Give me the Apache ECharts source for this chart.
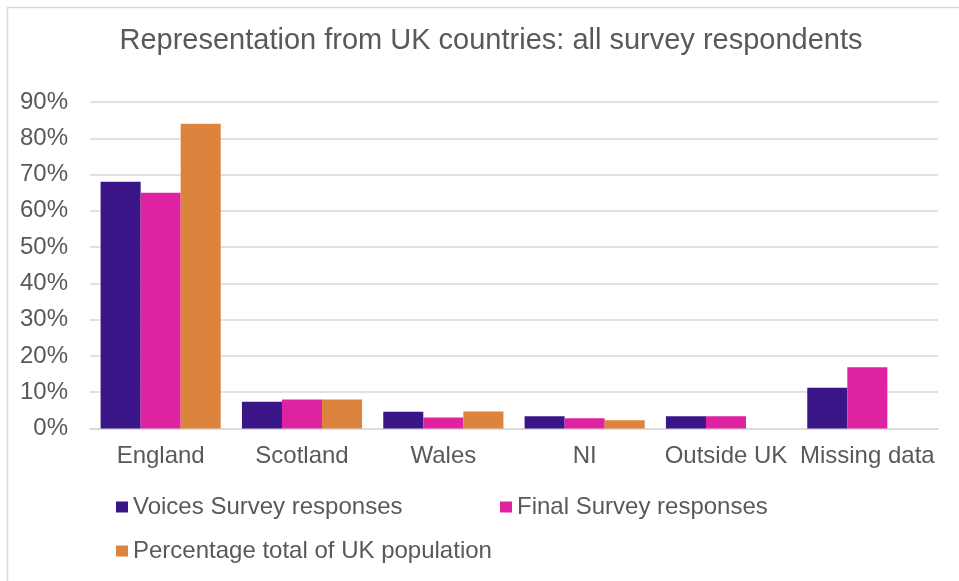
<!DOCTYPE html>
<html>
<head>
<meta charset="utf-8">
<script src="https://cdn.jsdelivr.net/npm/echarts@6/dist/echarts.min.js"></script>
<style>
  html, body { margin: 0; padding: 0; background: #ffffff; }
  #chart { width: 959px; height: 581px; }
</style>
</head>
<body>
<div id="chart"></div>
<script>
// Share of respondents by UK country (percent)
const categories = ['England', 'Scotland', 'Wales', 'NI', 'Outside UK', 'Missing data'];
const voicesSurvey = [68, 7.4, 4.6, 3.4, 3.4, 11.2];
const finalSurvey = [65, 8, 3, 2.8, 3.4, 16.9];
const ukPopulation = [84, 8, 4.7, 2.3, null, null];
const seriesNames = ['Voices Survey responses', 'Final Survey responses', 'Percentage total of UK population'];
const seriesColors = ['#3A1587', '#DF22A0', '#DC843E'];

const FONT = "'Liberation Sans', Arial, sans-serif";
const TEXT = '#595959';
const GRID_LINE = '#d9d9d9';

const chart = echarts.init(document.getElementById('chart'), null, { renderer: 'canvas' });

function legendAt(name, left, top) {
  return {
    data: [name],
    left: left,
    top: top,
    orient: 'horizontal',
    icon: 'rect',
    itemWidth: 12,
    itemHeight: 11,
    selectedMode: false,
    textStyle: { color: TEXT, fontSize: 24, fontFamily: FONT }
  };
}

chart.setOption({
  animation: false,
  backgroundColor: '#ffffff',
  title: {
    text: 'Representation from UK countries: all survey respondents',
    left: 486,
    top: 21,
    textAlign: 'center',
    textStyle: { color: TEXT, fontSize: 29, fontWeight: 'normal', fontFamily: FONT }
  },
  legend: [
    legendAt(seriesNames[0], 111, 490),
    legendAt(seriesNames[1], 495, 490),
    legendAt(seriesNames[2], 111, 534)
  ],
  grid: { left: 90, right: 21, top: 102, bottom: 152.5, containLabel: false },
  xAxis: {
    type: 'category',
    data: categories,
    axisLine: { show: true, lineStyle: { color: GRID_LINE, width: 1.5 } },
    axisTick: { show: false },
    axisLabel: { color: TEXT, fontSize: 24, fontFamily: FONT, margin: 16, interval: 0 }
  },
  yAxis: {
    type: 'value',
    min: 0,
    max: 90,
    interval: 10,
    axisLine: { show: false },
    axisTick: { show: false },
    axisLabel: { color: TEXT, fontSize: 24, fontFamily: FONT, margin: 22, formatter: '{value}%' },
    splitLine: { lineStyle: { color: GRID_LINE, width: 1.5 } }
  },
  graphic: [
    {
      type: 'polyline',
      shape: { points: [[7.5, 581], [7.5, 7.5], [959, 7.5]] },
      style: { stroke: '#d9d9d9', lineWidth: 1.5, fill: null },
      silent: true
    }
  ],
  series: [
    { name: seriesNames[0], type: 'bar', data: voicesSurvey, itemStyle: { color: seriesColors[0] }, barGap: '0%', barCategoryGap: '15%' },
    { name: seriesNames[1], type: 'bar', data: finalSurvey, itemStyle: { color: seriesColors[1] }, barGap: '0%', barCategoryGap: '15%' },
    { name: seriesNames[2], type: 'bar', data: ukPopulation, itemStyle: { color: seriesColors[2] }, barGap: '0%', barCategoryGap: '15%' }
  ]
});
</script>
</body>
</html>
